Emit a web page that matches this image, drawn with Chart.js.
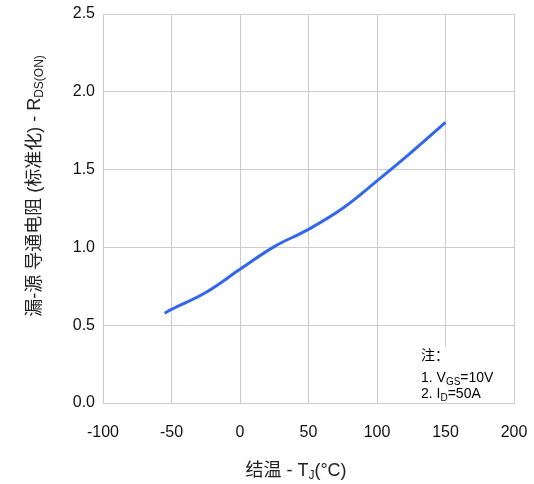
<!DOCTYPE html>
<html>
<head>
<meta charset="utf-8">
<script src="https://cdn.jsdelivr.net/npm/chart.js@4"></script>
<style>
html,body{margin:0;padding:0;background:#fff;}
#wrap{width:534px;height:484px;}
</style>
</head>
<body>
<div id="wrap"><canvas id="c" width="534" height="484"></canvas></div>
<script>
const temps = [-55, -50, -25, 0, 25, 50, 75, 100, 125, 150];
const rdsOn = [0.577, 0.602, 0.71, 0.859, 1.005, 1.116, 1.251, 1.427, 1.611, 1.804];
const xTicks = [-100, -50, 0, 50, 100, 150, 200];
const yTicks = [0.0, 0.5, 1.0, 1.5, 2.0, 2.5];
const yTitle = ['漏-源 导通电阻 (标准化) - R', 'DS(ON)'];
const xTitle = ['结温 - T', 'J', '(°C)'];
const noteLines = [['注：'], ['1. V', 'GS', '=10V'], ['2. I', 'D', '=50A']];

const FONT = 'Arial, "Liberation Sans", "Noto Sans CJK SC", sans-serif';

function drawSubText(ctx, parts, x, y, big, small) {
  let cx = x;
  parts.forEach((p, i) => {
    const sub = i % 2 === 1;
    ctx.font = (sub ? small : big) + 'px ' + FONT;
    ctx.fillText(p, cx, sub ? y + 3 : y);
    cx += ctx.measureText(p).width;
  });
  return cx - x;
}
function measureSub(ctx, parts, big, small) {
  let w = 0;
  parts.forEach((p, i) => {
    ctx.font = (i % 2 === 1 ? small : big) + 'px ' + FONT;
    w += ctx.measureText(p).width;
  });
  return w;
}

const decor = {
  id: 'decor',
  afterDatasetsDraw(chart) {
    const ctx = chart.ctx;
    const a = chart.chartArea;
    ctx.save();
    ctx.fillStyle = '#fff';
    ctx.fillRect(410, 347, a.right - 410 - 1, a.bottom - 347 - 1);
    ctx.fillStyle = '#000';
    ctx.textBaseline = 'alphabetic';
    ctx.textAlign = 'left';
    const bases = [360, 382, 398];
    noteLines.forEach((ln, i) => drawSubText(ctx, ln, 421, bases[i], 14, 10));
    ctx.restore();
  },
  afterDraw(chart) {
    const ctx = chart.ctx;
    ctx.save();
    ctx.fillStyle = '#222';
    ctx.textBaseline = 'alphabetic';
    ctx.textAlign = 'left';
    const wx = measureSub(ctx, xTitle, 18, 12);
    drawSubText(ctx, xTitle, 296 - wx / 2, 476, 18, 12);
    ctx.translate(40, 186);
    ctx.rotate(-Math.PI / 2);
    const wy = measureSub(ctx, yTitle, 18, 12);
    drawSubText(ctx, yTitle, -wy / 2, 0, 18, 12);
    ctx.restore();
  }
};

new Chart(document.getElementById('c'), {
  type: 'line',
  data: {
    datasets: [{
      data: temps.map((t, i) => ({x: t, y: rdsOn[i]})),
      borderColor: '#3366ee',
      borderWidth: 3,
      pointRadius: 0,
      tension: 0.4,
      fill: false
    }]
  },
  options: {
    responsive: false,
    animation: false,
    devicePixelRatio: 1,
    layout: {padding: {left: 0, right: 20, top: 14, bottom: 0}},
    plugins: {legend: {display: false}, tooltip: {enabled: false}},
    scales: {
      x: {
        type: 'linear',
        min: -100, max: 200,
        afterBuildTicks(s) { s.ticks = xTicks.map(v => ({value: v})); },
        afterFit(s) { s.height = 81; s.paddingLeft = 0; s.paddingRight = 0; },
        grid: {color: '#cccccc', lineWidth: 1, drawTicks: false},
        border: {color: '#cccccc'},
        ticks: {color: '#111', font: {size: 16, family: FONT}, padding: 20, maxRotation: 0}
      },
      y: {
        min: 0, max: 2.5,
        afterBuildTicks(s) { s.ticks = yTicks.map(v => ({value: v})); },
        afterFit(s) { s.width = 103; s.paddingTop = 0; s.paddingBottom = 0; },
        grid: {color: '#cccccc', lineWidth: 1, drawTicks: false},
        border: {color: '#cccccc'},
        ticks: {color: '#111', font: {size: 16, family: FONT}, padding: 8, callback: v => Number(v).toFixed(1)}
      }
    }
  },
  plugins: [decor]
});
</script>
</body>
</html>
